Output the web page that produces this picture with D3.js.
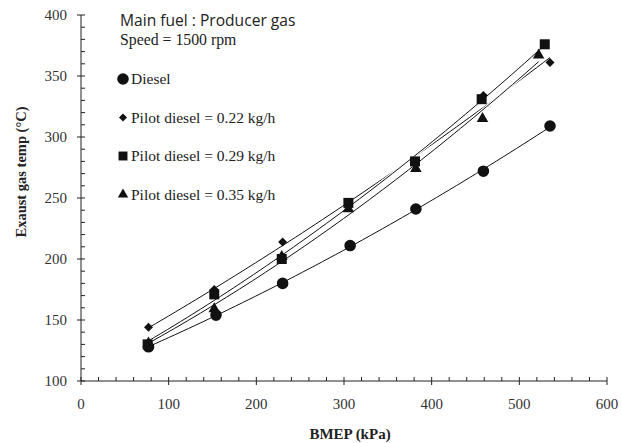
<!DOCTYPE html>
<html>
<head>
<meta charset="utf-8">
<script src="https://cdn.jsdelivr.net/npm/d3@7"></script>
<style>
  body { margin: 0; background: #fff; }
  #chart { width: 622px; height: 443px; }
  .serif { font-family: "Liberation Serif", "Times New Roman", serif; }
</style>
</head>
<body>
<div id="chart"></div>
<script>
var margin = {top: 15, right: 15, bottom: 62, left: 81},
    width = 622 - margin.left - margin.right,
    height = 443 - margin.top - margin.bottom;

// data
var bmepDiesel = [77, 154, 230, 307, 382, 459, 535];
var tempDiesel = [128, 154, 180, 211, 241, 272, 309];

var bmep022 = [77, 152, 230, 305, 380, 459, 535];
var temp022 = [144, 175, 214, 243, 279, 334, 361];

var bmep029 = [76, 152, 229, 305, 381, 457, 529];
var temp029 = [130, 171, 200, 246, 280, 331, 376];

var bmep035 = [77, 152, 229, 305, 382, 458, 522];
var temp035 = [131, 159, 202, 241, 274, 315, 367];

var seriesNames = ["Diesel", "Pilot diesel = 0.22 kg/h", "Pilot diesel = 0.29 kg/h", "Pilot diesel = 0.35 kg/h"];
var seriesSymbols = ["circle", "diamond", "square", "triangle"];

var xTicks = [0, 100, 200, 300, 400, 500, 600];
var yTicks = [100, 150, 200, 250, 300, 350, 400];

var series = [
  {name: seriesNames[0], sym: seriesSymbols[0], x: bmepDiesel, y: tempDiesel},
  {name: seriesNames[1], sym: seriesSymbols[1], x: bmep022, y: temp022},
  {name: seriesNames[2], sym: seriesSymbols[2], x: bmep029, y: temp029},
  {name: seriesNames[3], sym: seriesSymbols[3], x: bmep035, y: temp035}
];

var svg = d3.select("#chart").append("svg")
    .attr("width", width + margin.left + margin.right)
    .attr("height", height + margin.top + margin.bottom)
  .append("g")
    .attr("transform", "translate(" + margin.left + "," + margin.top + ")");

var x = d3.scaleLinear().domain([0, 600]).range([0, width]),
    y = d3.scaleLinear().domain([100, 400]).range([height, 0]);

// 2nd order polynomial trendline (least squares), like the spreadsheet did
function quadFit(xs, ys) {
  var n = xs.length, s = [0,0,0,0,0], t = [0,0,0];
  for (var i = 0; i < n; i++) {
    var p = 1;
    for (var k = 0; k < 5; k++) { s[k] += p; if (k < 3) t[k] += p * ys[i]; p *= xs[i]; }
  }
  var A = [[s[0], s[1], s[2], t[0]], [s[1], s[2], s[3], t[1]], [s[2], s[3], s[4], t[2]]];
  for (var c = 0; c < 3; c++) {
    for (var r = c + 1; r < 3; r++) {
      var f = A[r][c] / A[c][c];
      for (var j = c; j < 4; j++) A[r][j] -= f * A[c][j];
    }
  }
  var b = [0,0,0];
  for (var r2 = 2; r2 >= 0; r2--) {
    var v = A[r2][3];
    for (var j2 = r2 + 1; j2 < 3; j2++) v -= A[r2][j2] * b[j2];
    b[r2] = v / A[r2][r2];
  }
  return function(xv) { return b[0] + b[1] * xv + b[2] * xv * xv; };
}

var line = d3.line()
    .x(function(d) { return x(d[0]); })
    .y(function(d) { return y(d[1]); });

// trendlines
series.forEach(function(s) {
  var f = quadFit(s.x, s.y);
  var lo = d3.min(s.x), hi = d3.max(s.x), pts = [];
  for (var i = 0; i <= 60; i++) { var xv = lo + (hi - lo) * i / 60; pts.push([xv, f(xv)]); }
  svg.append("path")
    .attr("d", line(pts))
    .attr("fill", "none")
    .attr("stroke", "#fff")
    .attr("stroke-width", 3);
  svg.append("path")
    .attr("d", line(pts))
    .attr("fill", "none")
    .attr("stroke", "#111")
    .attr("stroke-width", 1);
});

function symbolFor(name, size) {
  var t = {circle: d3.symbolCircle, diamond: d3.symbolSquare, square: d3.symbolSquare, triangle: d3.symbolTriangle}[name];
  return d3.symbol().type(t).size(size)();
}
var symSize = {circle: 105, diamond: 40, square: 100, triangle: 58};
function symRot(name) { return name === "diamond" ? " rotate(45)" : ""; }

series.forEach(function(s) {
  svg.append("g").selectAll("path")
    .data(s.x.map(function(d, i) { return [d, s.y[i]]; }))
    .enter().append("path")
      .attr("transform", function(d) { return "translate(" + x(d[0]) + "," + y(d[1]) + ")" + symRot(s.sym); })
      .attr("d", symbolFor(s.sym, symSize[s.sym]))
      .attr("fill", "#111");
});

// axes
var xAxis = svg.append("g")
    .attr("class", "x-axis")
    .attr("transform", "translate(0," + height + ")");
xAxis.append("line").attr("x1", 0).attr("x2", width).attr("stroke", "#222");
xAxis.selectAll(".minor")
    .data(d3.range(0, 601, 20).filter(function(d) { return d % 100 !== 0; }))
    .enter().append("line")
      .attr("x1", function(d) { return x(d); }).attr("x2", function(d) { return x(d); })
      .attr("y1", -4).attr("y2", 0).attr("stroke", "#222");
xAxis.selectAll(".major")
    .data(xTicks)
    .enter().append("line")
      .attr("x1", function(d) { return x(d); }).attr("x2", function(d) { return x(d); })
      .attr("y1", -4).attr("y2", 4).attr("stroke", "#222");
xAxis.selectAll("text")
    .data(xTicks)
    .enter().append("text")
      .attr("class", "serif")
      .attr("x", function(d) { return x(d); })
      .attr("y", 28)
      .attr("text-anchor", "middle")
      .style("font-size", "15px")
      .attr("fill", "#333")
      .text(function(d) { return d; });

var yAxis = svg.append("g").attr("class", "y-axis");
yAxis.append("line").attr("y1", 0).attr("y2", height).attr("stroke", "#222");
yAxis.selectAll(".minor")
    .data(d3.range(100, 401, 10).filter(function(d) { return d % 50 !== 0; }))
    .enter().append("line")
      .attr("y1", function(d) { return y(d); }).attr("y2", function(d) { return y(d); })
      .attr("x1", 0).attr("x2", 4).attr("stroke", "#222");
yAxis.selectAll(".major")
    .data(yTicks)
    .enter().append("line")
      .attr("y1", function(d) { return y(d); }).attr("y2", function(d) { return y(d); })
      .attr("x1", -4).attr("x2", 4).attr("stroke", "#222");
yAxis.selectAll("text")
    .data(yTicks)
    .enter().append("text")
      .attr("class", "serif")
      .attr("x", -14)
      .attr("y", function(d) { return y(d) + 5; })
      .attr("text-anchor", "end")
      .style("font-size", "15px")
      .attr("fill", "#333")
      .text(function(d) { return d; });

// axis titles
svg.append("text")
    .attr("class", "serif")
    .attr("x", x(300) + 6)
    .attr("y", height + 58)
    .attr("text-anchor", "middle")
    .style("font-size", "15px")
    .style("font-weight", "bold")
    .attr("fill", "#222")
    .text("BMEP (kPa)");

svg.append("text")
    .attr("class", "serif")
    .attr("transform", "translate(" + (-55) + "," + 157 + ") rotate(-90)")
    .attr("text-anchor", "middle")
    .style("font-size", "14.5px")
    .style("font-weight", "bold")
    .attr("fill", "#222")
    .text("Exaust gas temp (\u00B0C)");

// notes + legend
svg.append("text")
    .attr("x", 39).attr("y", 11)
    .style("font-family", "'Open Sans', 'Noto Sans', sans-serif")
    .style("font-size", "15.6px")
    .attr("fill", "#222")
    .text("Main fuel : Producer gas");

svg.append("text")
    .attr("class", "serif")
    .attr("x", 39).attr("y", 29.5)
    .style("font-size", "15.8px")
    .attr("fill", "#222")
    .text("Speed = 1500 rpm");

var legend = svg.append("g").selectAll("g")
    .data(series)
    .enter().append("g")
      .attr("transform", function(d, i) { return "translate(42," + (64 + i * 38.5) + ")"; });
legend.append("path")
    .attr("d", function(d) { return symbolFor(d.sym, symSize[d.sym] * (d.sym === "circle" ? 1 : 0.8)); })
    .attr("transform", function(d) { return symRot(d.sym).trim(); })
    .attr("fill", "#111");
legend.append("text")
    .attr("class", "serif")
    .attr("x", 8)
    .attr("y", 5)
    .style("font-size", "15.5px")
    .attr("fill", "#222")
    .text(function(d) { return d.name; });
</script>
</body>
</html>
